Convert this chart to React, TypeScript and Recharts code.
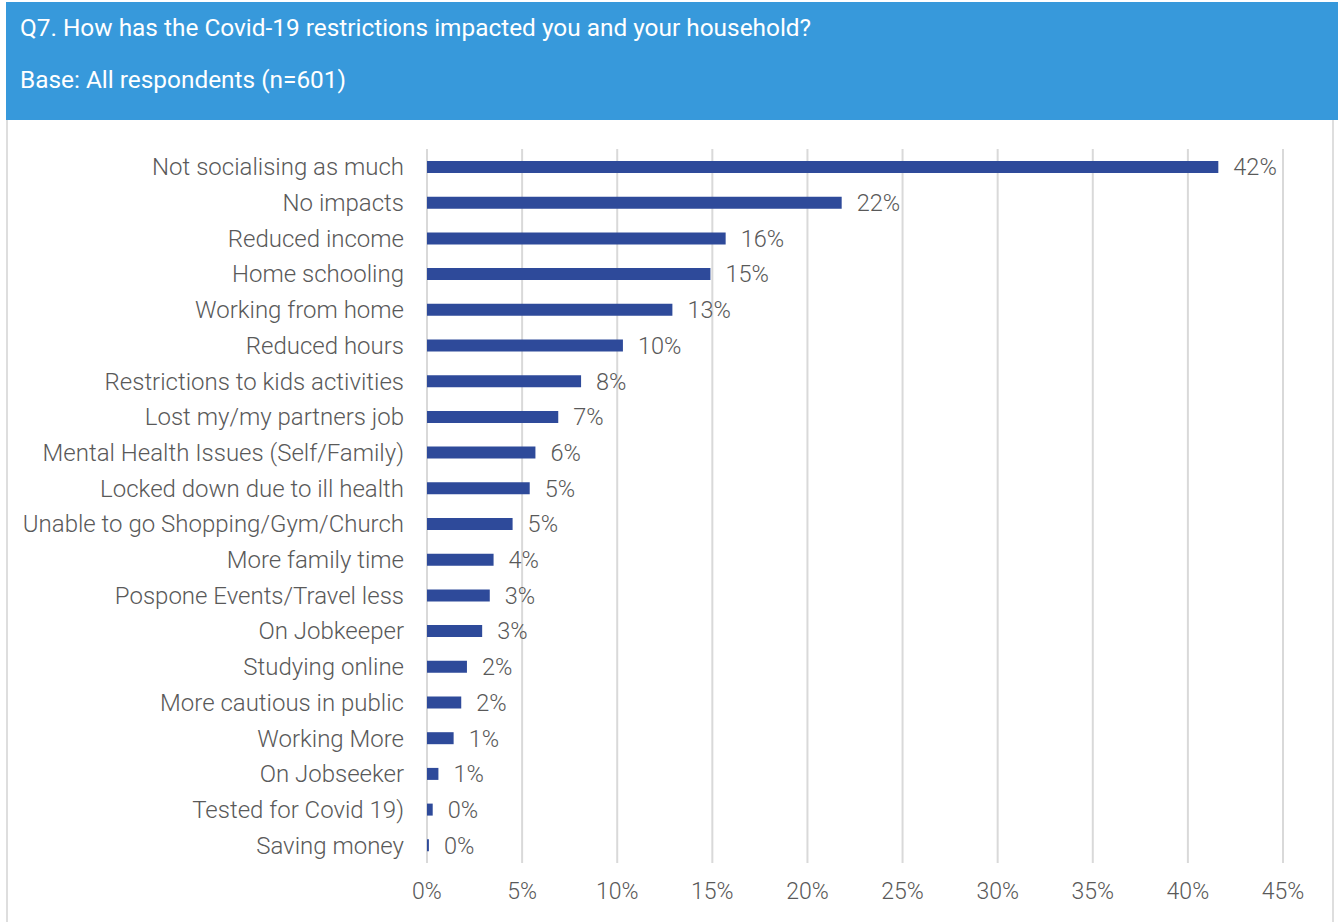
import { BarChart, Bar, XAxis, YAxis, CartesianGrid, LabelList } from "recharts";

const categories = [
  "Not socialising as much",
  "No impacts",
  "Reduced income",
  "Home schooling",
  "Working from home",
  "Reduced hours",
  "Restrictions to kids activities",
  "Lost my/my partners job",
  "Mental Health Issues (Self/Family)",
  "Locked down due to ill health",
  "Unable to go Shopping/Gym/Church",
  "More family time",
  "Pospone Events/Travel less",
  "On Jobkeeper",
  "Studying online",
  "More cautious in public",
  "Working More",
  "On Jobseeker",
  "Tested for Covid 19)",
  "Saving money",
];

const values = [
  41.6, 21.8, 15.7, 14.9, 12.9, 10.3, 8.1, 6.9, 5.7, 5.4, 4.5, 3.5, 3.3, 2.9, 2.1,
  1.8, 1.4, 0.6, 0.3, 0.1,
];

const xTicks = [0, 5, 10, 15, 20, 25, 30, 35, 40, 45];

const TITLE = "Q7. How has the Covid-19 restrictions impacted you and your household?";
const SUBTITLE = "Base: All respondents (n=601)";

const FONT = "Roboto, 'Noto Sans', sans-serif";
const TEXT = "#595959";

export default function App() {
  const data = categories.map((name, i) => ({ name, value: values[i] }));

  return (
    <div
      style={{
        position: "absolute",
        left: 0,
        top: 0,
        width: 1338,
        height: 922,
        background: "#fff",
        fontFamily: FONT,
      }}
    >
      <div
        style={{
          position: "absolute",
          left: 6,
          top: 2,
          width: 1332,
          height: 118,
          background: "#3799DB",
          color: "#fff",
          fontSize: 24.4,
          fontWeight: 400,
        }}
      >
        <div style={{ position: "absolute", left: 14, top: 11, whiteSpace: "nowrap" }}>{TITLE}</div>
        <div style={{ position: "absolute", left: 14, top: 63, whiteSpace: "nowrap" }}>{SUBTITLE}</div>
      </div>
      <div
        style={{
          position: "absolute",
          left: 6,
          top: 120,
          width: 1328,
          height: 802,
          borderLeft: "2px solid #dedede",
          borderRight: "2px solid #dedede",
          boxSizing: "border-box",
        }}
      />
      <div style={{ position: "absolute", left: 0, top: 120 }}>
        <BarChart
          width={1338}
          height={802}
          data={data}
          layout="vertical"
          margin={{ top: 29, right: 55, bottom: 9, left: 0 }}
          barSize={12}
        >
          <CartesianGrid horizontal={false} stroke="#d9d9d9" strokeWidth={2} />
          <XAxis
            type="number"
            domain={[0, 45]}
            ticks={xTicks}
            tickFormatter={(v: number) => `${v}%`}
            axisLine={false}
            tickLine={false}
            tickSize={0}
            tickMargin={20}
            height={50}
            tick={{ fontSize: 23, fill: TEXT, fontWeight: 300, fontFamily: FONT }}
            interval={0}
          />
          <YAxis
            type="category"
            dataKey="name"
            width={427}
            axisLine={false}
            tickLine={false}
            tickSize={0}
            tickMargin={23}
            interval={0}
            tick={{ fontSize: 24, fill: TEXT, fontWeight: 300, fontFamily: FONT }}
          />
          <Bar dataKey="value" fill="#2E4A9A" isAnimationActive={false}>
            <LabelList
              dataKey="value"
              position="right"
              offset={15}
              formatter={(v: number) => `${Math.round(v)}%`}
              style={{ fontSize: 23.5, fill: TEXT, fontWeight: 300, fontFamily: FONT }}
            />
          </Bar>
        </BarChart>
      </div>
    </div>
  );
}
